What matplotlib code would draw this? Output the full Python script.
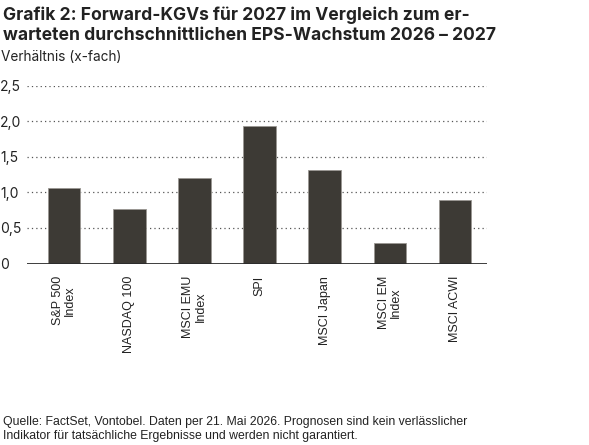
import matplotlib.pyplot as plt

# Daten
labels = ["S&P 500\nIndex", "NASDAQ 100", "MSCI EMU\nIndex", "SPI",
          "MSCI Japan", "MSCI EM\nIndex", "MSCI ACWI"]
werte = [1.06, 0.76, 1.20, 1.93, 1.32, 0.29, 0.89]
y_ticks = [0, 0.5, 1.0, 1.5, 2.0, 2.5]
y_labels = ["0", "0,5", "1,0", "1,5", "2,0", "2,5"]

plt.rcParams['font.family'] = ['Inter', 'DejaVu Sans']
schmal = ['Liberation Sans', 'DejaVu Sans']

fig = plt.figure(figsize=(5.89, 4.45), dpi=100)
W, H = 589, 445

# Achse in Pixelkoordinaten
left, right, top, bottom = 27, 487, 85.7, 263.5
ax = fig.add_axes([left / W, 1 - bottom / H, (right - left) / W, (bottom - top) / H])

x = list(range(len(werte)))
ax.bar(x, werte, width=0.5, color="#3d3a35", edgecolor="#9a9792", linewidth=0.6, zorder=3)

ax.set_xlim(-0.57, 6.49)
ax.set_ylim(0, 2.5)
ax.set_yticks(y_ticks)
ax.set_yticklabels(y_labels, fontsize=10, color="#222222")
ax.set_xticks(x)
ax.set_xticklabels(labels, rotation=90, fontsize=9, color="#222222", family=schmal,
                   va="top", ha="center", linespacing=1.0)
ax.tick_params(axis="both", length=0)
ax.tick_params(axis="x", pad=9)

for t in y_ticks[1:]:
    ax.axhline(t, color="#555555", linestyle=(0, (1, 2.5)), linewidth=0.9, zorder=1)
ax.axhline(0, color="#2b2b2b", linewidth=2, zorder=4)

for s in ax.spines.values():
    s.set_visible(False)
for lab in ax.get_yticklabels():
    lab.set_horizontalalignment("left")
    lab.set_x(-27 / (right - left))
ax.tick_params(axis="y", pad=0)

fig.text(3 / W, 1 - 7 / H, "Grafik 2: Forward-KGVs für 2027 im Vergleich zum er-\nwarteten durchschnittlichen EPS-Wachstum 2026 – 2027",
         fontsize=12.6, fontweight="bold", color="#222222", va="top", ha="left", linespacing=1.2)
fig.text(1 / W, 1 - 57 / H, "Verhältnis (x-fach)", fontsize=9.8, color="#222222", va="center", ha="left")
fig.text(3 / W, 1 - 416 / H, "Quelle: FactSet, Vontobel. Daten per 21. Mai 2026. Prognosen sind kein verlässlicher\nIndikator für tatsächliche Ergebnisse und werden nicht garantiert.",
         fontsize=8.8, family=schmal, color="#222222", va="top", ha="left", linespacing=1.2)

fig.savefig("out.png", dpi=100)
